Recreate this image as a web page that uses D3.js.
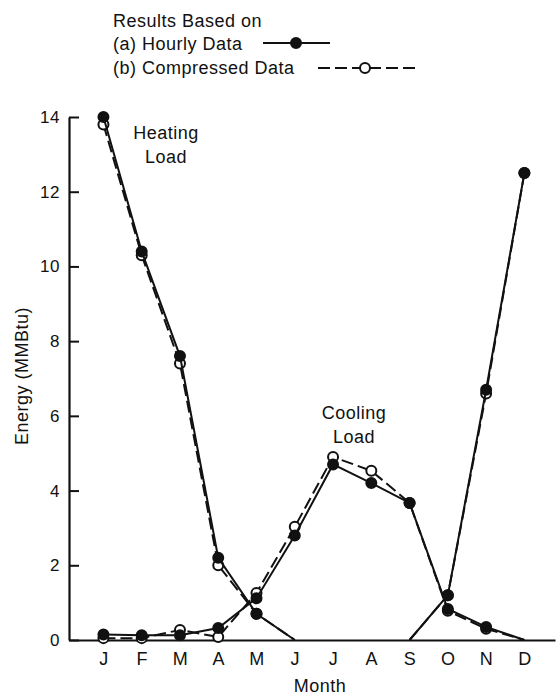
<!DOCTYPE html>
<meta charset="utf-8">
<script src="https://d3js.org/d3.v7.min.js"></script>
<style>
  body { margin: 0; background: #fff; }
  text { font-family: "Liberation Sans", Arial, sans-serif; fill: #111; letter-spacing: 0.5px; }
</style>
<div id="chart"></div>
<script>

// months and series values (MMBtu), null where no line is drawn
var months = ["J", "F", "M", "A", "M", "J", "J", "A", "S", "O", "N", "D"];
var yTicks = [0, 2, 4, 6, 8, 10, 12, 14];

var heatHourly     = [14.0, 10.4, 7.6, 2.2, 0.7, 0, null, null, 0, 1.2, 6.7, 12.5];
var heatCompressed = [13.8, 10.3, 7.4, 2.0, 0.7, 0, null, null, 0, 1.2, 6.6, 12.5];
var coolHourly     = [0.15, 0.13, 0.13, 0.32, 1.12, 2.8, 4.7, 4.2, 3.67, 0.83, 0.35, 0];
var coolCompressed = [0.05, 0.05, 0.27, 0.08, 1.26, 3.03, 4.9, 4.53, 3.67, 0.78, 0.3, 0];

var width = 560, height = 698;
var fs = "18px";

var svg = d3.select("#chart")
  .append("svg")
    .attr("width", width)
    .attr("height", height);

// x: month index, y: energy
var x = d3.scaleLinear()
  .domain([-0.9, 11.8])
  .range([69, 555]);

var y = d3.scaleLinear()
  .domain([0, 14])
  .range([640, 117]);

// x axis, just the baseline and month letters
var xAxis = svg.append("g")
  .attr("transform", "translate(0," + y(0) + ")")
  .call(d3.axisBottom(x)
    .tickValues(d3.range(12))
    .tickFormat(function(d) { return months[d]; })
    .tickSize(0)
    .tickSizeOuter(0)
    .tickPadding(12));
xAxis.select(".domain").attr("stroke", "#111").attr("stroke-width", 2.2);
xAxis.selectAll("text").style("font-size", fs);

// y axis with ticks pointing inward
var yAxis = svg.append("g")
  .attr("transform", "translate(" + x(-0.9) + ",0)")
  .call(d3.axisLeft(y)
    .tickValues(yTicks)
    .tickSizeInner(-10)
    .tickSizeOuter(0)
    .tickPadding(9));
yAxis.select(".domain").attr("stroke", "#111").attr("stroke-width", 2.2);
yAxis.selectAll(".tick line").attr("stroke", "#111").attr("stroke-width", 2);
yAxis.selectAll("text").style("font-size", "17px");

// axis labels
svg.append("text")
  .attr("text-anchor", "middle")
  .attr("x", 320)
  .attr("y", 692)
  .style("font-size", fs)
  .text("Month");

svg.append("text")
  .attr("text-anchor", "middle")
  .attr("transform", "translate(28," + 376 + ") rotate(-90)")
  .style("font-size", fs)
  .text("Energy (MMBtu)");

var line = d3.line()
  .defined(function(d) { return d != null; })
  .x(function(d, i) { return x(i); })
  .y(function(d) { return y(d); });

function drawSeries(vals, dashed, filled) {
  svg.append("path")
    .datum(vals)
    .attr("fill", "none")
    .attr("stroke", "#111")
    .attr("stroke-width", 2)
    .attr("stroke-dasharray", dashed ? "12,5" : null)
    .attr("d", line);

  var pts = vals.map(function(v, i) { return {i: i, v: v}; })
    .filter(function(d) { return d.v != null && d.v > 0; });

  svg.append("g")
    .selectAll("circle")
    .data(pts)
    .enter()
    .append("circle")
      .attr("cx", function(d) { return x(d.i); })
      .attr("cy", function(d) { return y(d.v); })
      .attr("r", 5)
      .attr("fill", filled ? "#111" : "#fff")
      .attr("stroke", "#111")
      .attr("stroke-width", 2);
}

// compressed first so the hourly dots sit on top
drawSeries(heatCompressed, true, false);
drawSeries(coolCompressed, true, false);
drawSeries(heatHourly, false, true);
drawSeries(coolHourly, false, true);

// annotations
function label(lines, cx, cy) {
  lines.forEach(function(t, k) {
    svg.append("text")
      .attr("text-anchor", "middle")
      .attr("x", cx)
      .attr("y", cy + k * 24)
      .style("font-size", fs)
      .text(t);
  });
}
label(["Heating", "Load"], 166, 139);
label(["Cooling", "Load"], 354, 419);

// legend
svg.append("text").attr("x", 113).attr("y", 27).style("font-size", fs).text("Results Based on");
svg.append("text").attr("x", 113).attr("y", 50).style("font-size", fs).text("(a) Hourly Data");
svg.append("text").attr("x", 113).attr("y", 74).style("font-size", fs).text("(b) Compressed Data");

svg.append("line")
  .attr("x1", 263).attr("x2", 330).attr("y1", 43).attr("y2", 43)
  .attr("stroke", "#111").attr("stroke-width", 2);
svg.append("circle")
  .attr("cx", 296).attr("cy", 43).attr("r", 5)
  .attr("fill", "#111").attr("stroke", "#111").attr("stroke-width", 2);

svg.append("line")
  .attr("x1", 318).attr("x2", 416).attr("y1", 68).attr("y2", 68)
  .attr("stroke", "#111").attr("stroke-width", 2)
  .attr("stroke-dasharray", "12,5");
svg.append("circle")
  .attr("cx", 365).attr("cy", 68).attr("r", 5)
  .attr("fill", "#fff").attr("stroke", "#111").attr("stroke-width", 2);

</script>
